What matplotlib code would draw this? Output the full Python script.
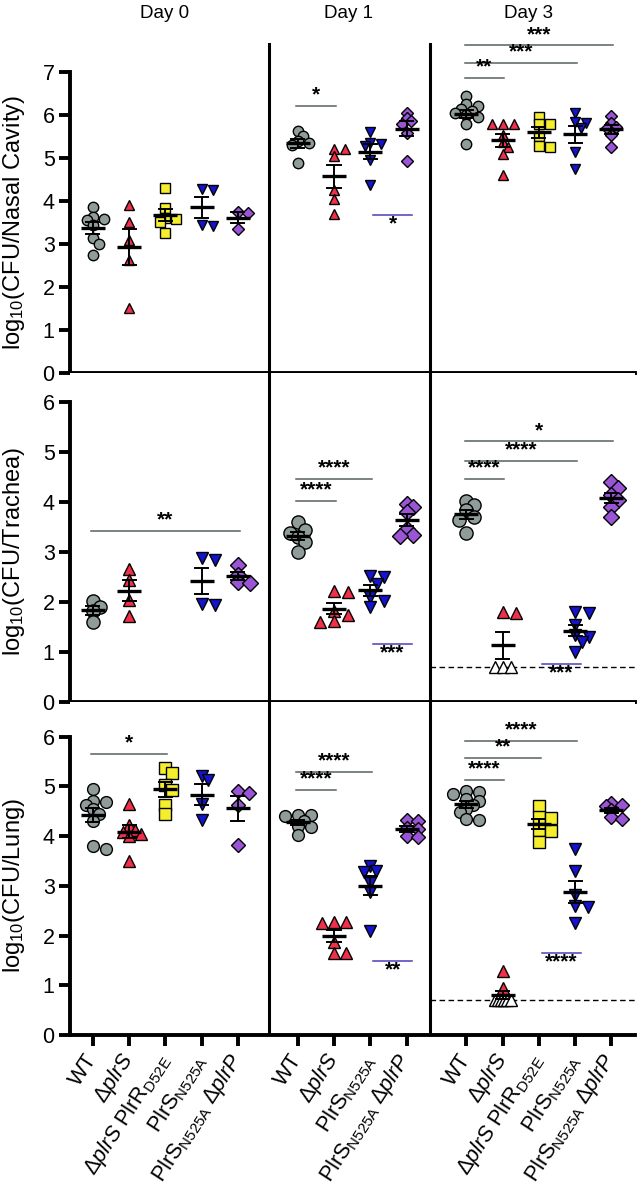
import matplotlib
matplotlib.use("Agg")
import matplotlib.pyplot as plt
import numpy as np

plt.rcParams["font.family"] = ["Liberation Sans", "DejaVu Sans"]
plt.rcParams["mathtext.fontset"] = "custom"
plt.rcParams["mathtext.rm"] = "Liberation Sans"
plt.rcParams["mathtext.it"] = "Liberation Sans:italic"

# strains in each day, by key
day0_strains = ["wt", "plrS", "plrS_plrR", "n525a", "n525a_plrP"]
day1_strains = ["wt", "plrS", "n525a", "n525a_plrP"]
day3_strains = ["wt", "plrS", "plrS_plrR", "n525a", "n525a_plrP"]

tick_labels = {
    "wt": "WT",
    "plrS": r"Δ$\mathit{plrS}$",
    "plrS_plrR": r"Δ$\mathit{plrS}$ PlrR$_{\mathrm{D52E}}$",
    "n525a": r"PlrS$_{\mathrm{N525A}}$",
    "n525a_plrP": r"PlrS$_{\mathrm{N525A}}$ Δ$\mathit{plrP}$",
}

# log10 CFU, nasal cavity
nasal_day0 = [
    [3.87, 3.62, 3.58, 3.55, 3.45, 3.15, 3.0, 2.75],
    [3.9, 3.52, 3.1, 2.63, 1.5],
    [4.3, 3.83, 3.6, 3.58, 3.52, 3.25],
    [4.28, 4.25, 3.45, 3.42],
    [3.75, 3.72, 3.35],
]
nasal_day1 = [
    [5.62, 5.5, 5.4, 5.35, 5.3, 4.88],
    [5.2, 5.2, 5.05, 4.25, 4.05, 3.7],
    [5.6, 5.35, 5.33, 5.28, 4.95, 4.37],
    [6.05, 5.92, 5.85, 5.8, 5.57, 4.92],
]
nasal_day3 = [
    [6.45, 6.25, 6.2, 6.15, 6.1, 6.05, 6.0, 5.95, 5.8, 5.32],
    [5.8, 5.8, 5.8, 5.53, 5.38, 5.26, 5.1, 4.6],
    [5.95, 5.8, 5.8, 5.5, 5.27, 5.25],
    [6.05, 5.83, 5.82, 5.7, 5.15, 4.75],
    [5.98, 5.81, 5.73, 5.69, 5.53, 5.26],
]

# log10 CFU, trachea (None = not tested)
trachea_day0 = [
    [2.03, 1.9, 1.82, 1.6],
    [2.67, 2.45, 2.05, 1.72],
    None,
    [2.88, 2.85, 1.97, 1.95],
    [2.75, 2.55, 2.4, 2.38],
]
trachea_day1 = [
    [3.6, 3.45, 3.38, 3.3, 3.2, 3.0],
    [2.23, 2.2, 1.82, 1.75, 1.62, 1.6],
    [2.52, 2.5, 2.37, 2.1, 2.03, 1.9],
    [3.97, 3.9, 3.8, 3.47, 3.35, 3.33],
]
trachea_day3 = [
    [4.02, 3.94, 3.84, 3.7, 3.64, 3.38],
    [1.8, 1.78, 0.7, 0.7, 0.7],
    None,
    [1.8, 1.78, 1.55, 1.35, 1.3, 1.2, 1.0],
    [4.41, 4.29, 4.14, 4.04, 3.91, 3.71],
]

# log10 CFU, lung
lung_day0 = [
    [4.95, 4.7, 4.68, 4.62, 4.55, 4.45, 4.3, 3.8, 3.75],
    [4.65, 4.22, 4.12, 4.08, 4.05, 4.0, 3.5],
    [5.37, 5.27, 5.03, 4.93, 4.62, 4.45],
    [5.22, 5.13, 4.65, 4.32],
    [4.9, 4.87, 4.63, 3.83],
]
lung_day1 = [
    [4.42, 4.42, 4.4, 4.3, 4.2, 4.18, 4.02],
    [2.27, 2.27, 2.25, 1.88, 1.65, 1.64],
    [3.4, 3.3, 3.28, 3.06, 2.88, 2.1],
    [4.33, 4.3, 4.16, 4.15, 4.0, 3.98],
]
lung_day3 = [
    [4.9, 4.88, 4.85, 4.75, 4.7, 4.62, 4.55, 4.48, 4.35, 4.33],
    [1.28, 0.95, 0.7, 0.7, 0.7, 0.7, 0.7, 0.7],
    [4.6, 4.38, 4.37, 4.12, 4.1, 3.88],
    [3.74, 3.3, 2.82, 2.6, 2.57, 2.25],
    [4.67, 4.62, 4.6, 4.52, 4.38, 4.35],
]

limit_of_detection = 0.7

# significance vs WT: (day index, group a, group b, height, stars)
nasal_sig = [(1, 0, 1, 6.21, "*"), (2, 0, 4, 7.62, "***"),
             (2, 0, 3, 7.22, "***"), (2, 0, 1, 6.87, "**")]
trachea_sig = [(0, 0, 4, 3.42, "**"), (1, 0, 1, 4.03, "****"),
               (1, 0, 2, 4.46, "****"), (2, 0, 1, 4.46, "****"),
               (2, 0, 3, 4.82, "****"), (2, 0, 4, 5.21, "*")]
lung_sig = [(0, 0, 2, 5.65, "*"), (1, 0, 1, 4.93, "****"),
            (1, 0, 2, 5.3, "****"), (2, 0, 1, 5.13, "****"),
            (2, 0, 2, 5.57, "**"), (2, 0, 3, 5.92, "****")]
# PlrS N525A vs PlrS N525A dplrP: (day index, height, stars)
nasal_sig2 = [(1, 3.67, "*")]
trachea_sig2 = [(1, 1.16, "***"), (2, 0.76, "***")]
lung_sig2 = [(1, 1.49, "**"), (2, 1.64, "****")]

colors = {"wt": "#8f9c99", "plrS": "#f0304a", "plrS_plrR": "#f4ee2c",
          "n525a": "#1414cc", "n525a_plrP": "#9a55d6"}
markers = {"wt": "o", "plrS": "^", "plrS_plrR": "s", "n525a": "v",
           "n525a_plrP": "D"}
msize = {"wt": 1.0, "plrS": 0.95, "plrS_plrR": 0.95, "n525a": 0.95,
         "n525a_plrP": 0.85}

day_strains = [day0_strains, day1_strains, day3_strains]
day_starts = [0.0, 5.65, 10.3]
dividers = [4.86, 9.3]
xlim = (-0.63, 14.95)

rows = [
    dict(data=[nasal_day0, nasal_day1, nasal_day3], sig=nasal_sig,
         sig2=nasal_sig2, ymax=7, ytop=7.674, ms=7.5, lod=False,
         label=r"log$_{10}$(CFU/Nasal Cavity)", top=43, bottom=373),
    dict(data=[trachea_day0, trachea_day1, trachea_day3], sig=trachea_sig,
         sig2=trachea_sig2, ymax=6, ytop=6.58, ms=9.5, lod=True,
         label=r"log$_{10}$(CFU/Trachea)", top=373, bottom=702),
    dict(data=[lung_day0, lung_day1, lung_day3], sig=lung_sig,
         sig2=lung_sig2, ymax=6, ytop=6.70, ms=8.5, lod=True,
         label=r"log$_{10}$(CFU/Lung)", top=702, bottom=1035),
]

W, H = 637, 1199
LEFT, RIGHT = 70, 635
px_per_x = (RIGHT - LEFT) / (xlim[1] - xlim[0])


def swarm(vals, d, ys):
    # horizontal offsets (data units), points may overlap a little like Prism
    vals = np.asarray(vals, float)
    off = np.zeros(len(vals))
    placed = []
    for i in np.argsort(-vals, kind="stable"):
        y = vals[i] * ys
        for k in range(60):
            cand = 0.0 if k == 0 else ((k + 1) // 2) * (1 if k % 2 else -1) * 0.55 * d
            if all((cand - px) ** 2 + (y - py) ** 2 >= (0.62 * d) ** 2 for px, py in placed):
                break
        placed.append((cand, y))
        off[i] = cand / px_per_x
    return off


fig = plt.figure(figsize=(W / 100, H / 100), dpi=100)
line_gray = "#56625f"
line_blue = "#4a3fb8"

for r, row in enumerate(rows):
    ax = fig.add_axes([LEFT / W, 1 - row["bottom"] / H, (RIGHT - LEFT) / W,
                       (row["bottom"] - row["top"]) / H])
    ax.set_xlim(*xlim)
    ax.set_ylim(0, row["ytop"])
    ys = (row["bottom"] - row["top"]) / row["ytop"]
    d_px = row["ms"] * 100 / 72

    ticks, labels = [], []
    for day, strains in enumerate(day_strains):
        for g, key in enumerate(strains):
            x0 = day_starts[day] + g
            vals = row["data"][day][g]
            if vals is None:
                continue
            ticks.append(x0)
            labels.append(tick_labels[key])
            vals = np.asarray(vals, float)
            hollow = vals <= limit_of_detection + 1e-9
            off = np.zeros(len(vals))
            if (~hollow).any():
                off[~hollow] = swarm(vals[~hollow], d_px * msize[key], ys)
            nh = hollow.sum()
            if nh:
                off[hollow] = np.linspace(-0.22, 0.22, nh) if nh > 1 else 0
            ms = row["ms"] * msize[key]
            ax.plot(x0 + off[~hollow], vals[~hollow], ls="none",
                    marker=markers[key], ms=ms, mfc=colors[key], mec="black",
                    mew=1.0, zorder=3, clip_on=False)
            if nh:
                ax.plot(x0 + off[hollow], vals[hollow], ls="none",
                        marker=markers[key], ms=ms, mfc="white", mec="black",
                        mew=1.0, zorder=3, clip_on=False)
            m = vals.mean()
            sem = vals.std(ddof=1) / np.sqrt(len(vals))
            ax.plot([x0 - 0.33, x0 + 0.33], [m, m], color="black", lw=2.4,
                    zorder=5, solid_capstyle="butt")
            ax.plot([x0, x0], [m - sem, m + sem], color="black", lw=1.4, zorder=5)
            for yy in (m - sem, m + sem):
                ax.plot([x0 - 0.18, x0 + 0.18], [yy, yy], color="black",
                        lw=1.4, zorder=5)

    for day, a, b, h, stars in row["sig"]:
        xa = day_starts[day] + a - 0.05
        xb = day_starts[day] + b + 0.05
        ax.plot([xa, xb], [h, h], color=line_gray, lw=1.1, clip_on=False)
        ax.annotate(stars, ((xa + xb) / 2, h), xytext=(0, 1), textcoords="offset points",
                    ha="center", va="bottom", fontsize=15, fontweight="bold",
                    annotation_clip=False)
    for day, h, stars in row["sig2"]:
        xa = day_starts[day] + 2 + 0.08
        xb = day_starts[day] + 3 + 0.15
        ax.plot([xa, xb], [h, h], color=line_blue, lw=1.1)
        ax.annotate(stars, ((xa + xb) / 2, h), xytext=(0, -13), textcoords="offset points",
                    ha="center", va="bottom", fontsize=15, fontweight="bold")

    if row["lod"]:
        ax.plot([dividers[1], xlim[1]], [limit_of_detection] * 2, color="black",
                lw=1.0, ls=(0, (4, 2.5)), zorder=2)

    for xd in dividers:
        ax.axvline(xd, color="black", lw=2.2, zorder=1)

    ax.spines["top"].set_visible(False)
    ax.spines["right"].set_visible(False)
    for s in ("left", "bottom"):
        ax.spines[s].set_linewidth(2.8)
    ax.spines["left"].set_bounds(0, row["ymax"])
    ax.set_yticks(range(0, row["ymax"] + 1))
    ax.tick_params(axis="both", direction="out", length=8, width=2.8,
                   labelsize=15.5, pad=3)
    ax.set_xticks(ticks)
    if r == 2:
        ax.set_xticklabels(labels, rotation=57, ha="right", va="center",
                           rotation_mode="anchor", fontsize=15.5)
        ax.tick_params(axis="x", pad=7)
    else:
        ax.set_xticklabels([])

    yc = (row["bottom"] + (row["bottom"] - ys * row["ymax"])) / 2
    fig.text(14 / W, 1 - yc / H, row["label"], rotation=90, ha="center",
             va="center", fontsize=17)

for name, xc in zip(["Day 0", "Day 1", "Day 3"], [165, 349, 529]):
    fig.text(xc / W, 1 - 13 / H, name, ha="center", va="center", fontsize=13.5)

fig.savefig("out.png", dpi=100)
